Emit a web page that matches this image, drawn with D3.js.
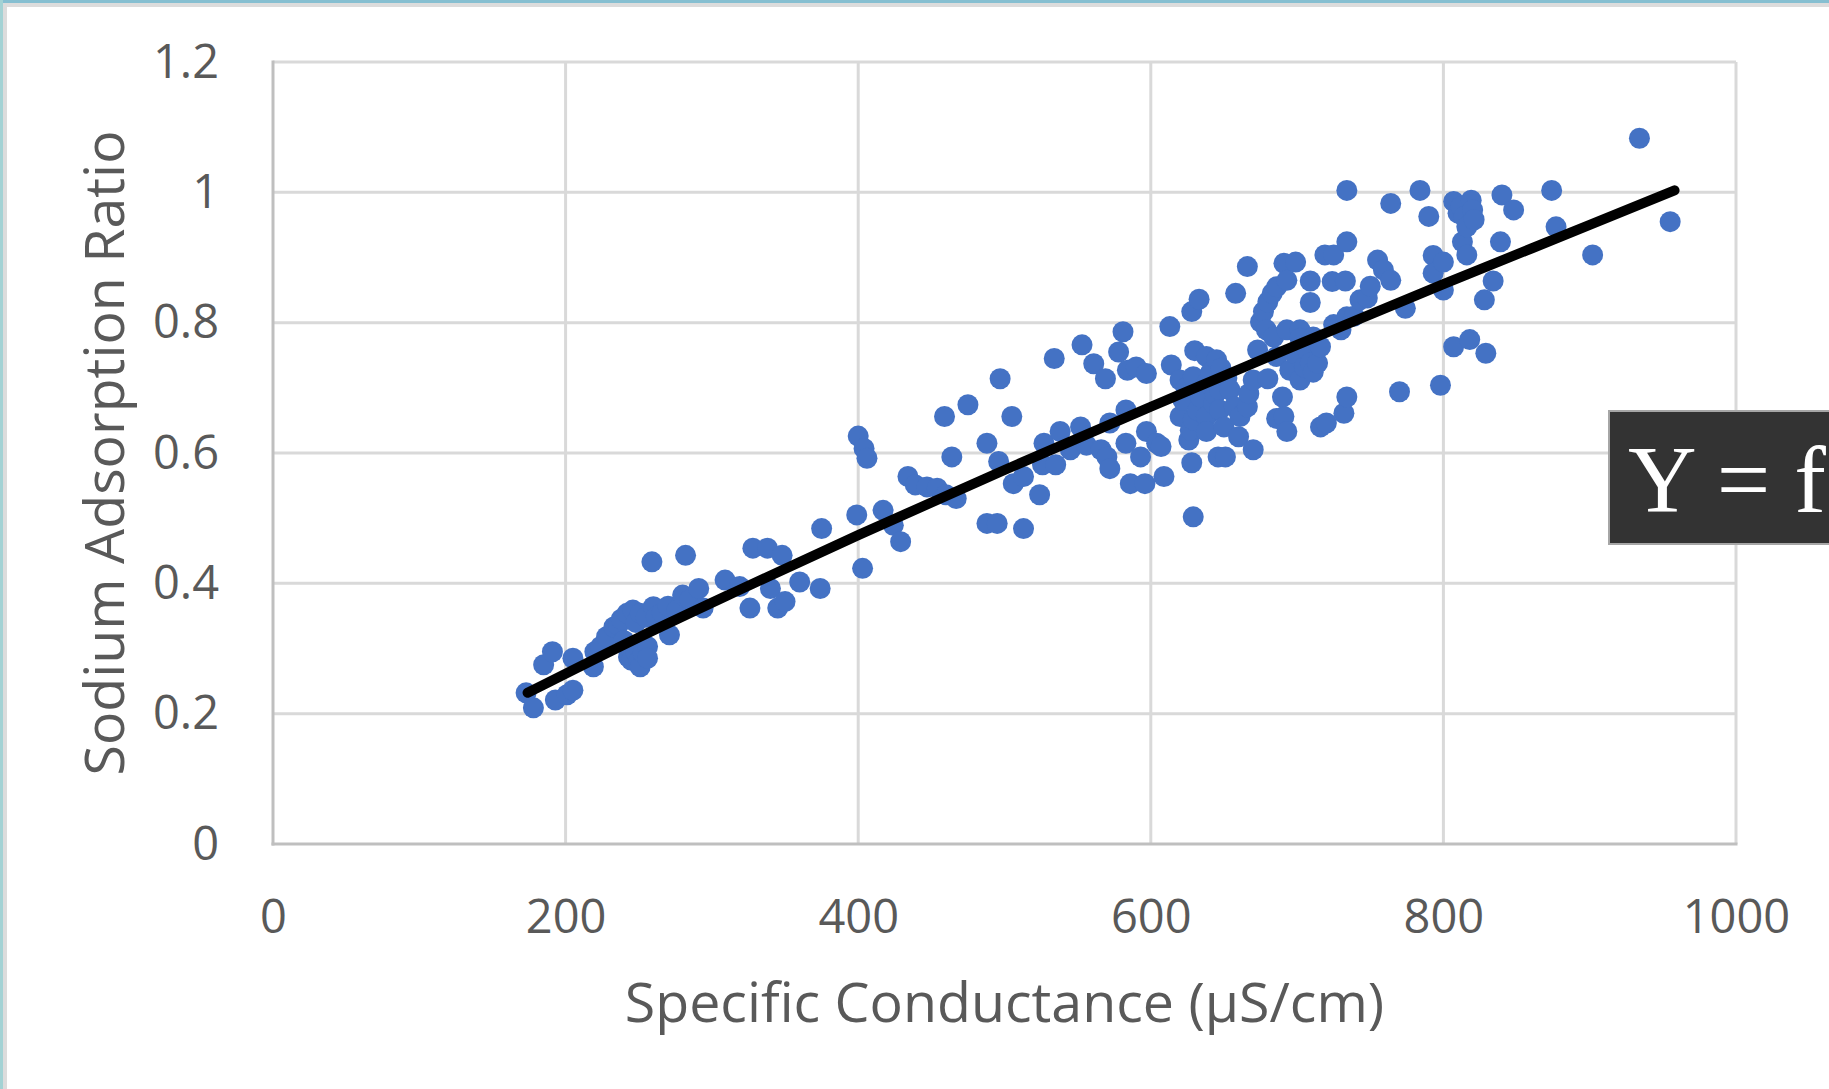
<!DOCTYPE html>
<meta charset="utf-8">
<style>
body {
  margin: 0;
  background-color: #ffffff;
  overflow: hidden;
}
.tick text {
  font-family: "Open Sans", sans-serif;
  font-size: 47px;
  fill: #595959;
}
.title {
  font-family: "Open Sans", sans-serif;
  font-size: 55.5px;
  fill: #595959;
}
.grid line {
  stroke: #d9d9d9;
  stroke-width: 3px;
}
.axisline {
  stroke: #bfbfbf;
  stroke-width: 3px;
}
.dot {
  fill: #4472c4;
}
.trend {
  fill: none;
  stroke: #000000;
  stroke-width: 10px;
  stroke-linecap: round;
}
</style>
<body>
<script src="https://d3js.org/d3.v7.min.js"></script>
<script>
  // tick values and labels
  var xTicks = [0, 200, 400, 600, 800, 1000];
  var xTickLabels = ["0", "200", "400", "600", "800", "1000"];
  var yTicks = [0, 0.2, 0.4, 0.6, 0.8, 1, 1.2];
  var yTickLabels = ["0", "0.2", "0.4", "0.6", "0.8", "1", "1.2"];

  // specific conductance (uS/cm) of each sample
  var conductance = [
    173, 178, 185, 191, 193, 201, 205, 205, 219, 220, 224, 228, 233, 236, 238, 240,
    242, 243, 245, 246, 248, 248, 250, 251, 251, 253, 255, 256, 256, 259, 260, 262,
    266, 270, 271, 276, 280, 282, 285, 291, 294,
    309, 319, 326, 328, 338, 340, 345, 348, 350, 360, 374, 375, 399, 400, 403, 404,
    406, 417, 424, 429, 434, 439, 447, 454, 459, 460, 464, 467, 475, 488, 488, 495,
    496, 497,
    505, 506, 513, 513, 524, 526, 527, 534, 535, 538, 545, 552, 553, 556, 561, 566,
    569, 570, 572, 572, 578, 581, 583, 583, 584, 586, 590, 593, 596, 597, 597, 604,
    607, 609,
    613, 614, 620, 620, 622, 624, 626, 627, 628, 628, 629, 629, 629, 630, 632, 633,
    634, 638, 638, 638, 638, 641, 643, 644, 645, 646, 647, 647, 648, 650, 651, 652,
    654, 657, 658, 660, 661, 666, 666, 667, 670, 670, 673, 675, 677, 679, 680, 680,
    683, 684, 686, 686, 686, 690, 691, 691, 693, 693, 693, 695, 698, 699, 702, 702,
    702,
    705, 707, 709, 709, 709, 711, 711, 714, 716, 716, 719, 720, 724, 725, 725, 730,
    732, 733, 734, 734, 734, 734, 739, 743, 748, 750, 755, 759, 764, 764, 770, 774,
    784, 790, 793, 793, 798, 800, 800,
    807, 807, 810, 812, 813, 814, 816, 816, 818, 819, 820, 821, 828, 829, 834, 839,
    840, 848, 874, 877, 902, 934, 955
  ];

  // sodium adsorption ratio of each sample
  var sar = [
    0.232, 0.209, 0.275, 0.295, 0.221, 0.229, 0.236, 0.285, 0.272, 0.295, 0.303, 0.318, 0.333, 0.336, 0.345, 0.312,
    0.354, 0.287, 0.282, 0.359, 0.340, 0.295, 0.280, 0.272, 0.354, 0.293, 0.348, 0.303, 0.285, 0.433, 0.364, 0.349,
    0.355, 0.365, 0.321, 0.359, 0.382, 0.443, 0.375, 0.392, 0.362,
    0.405, 0.395, 0.362, 0.454, 0.454, 0.392, 0.362, 0.443, 0.372, 0.402, 0.392, 0.484, 0.505, 0.626, 0.423, 0.607,
    0.592, 0.512, 0.489, 0.464, 0.564, 0.551, 0.548, 0.546, 0.656, 0.536, 0.594, 0.530, 0.674, 0.615, 0.492, 0.492,
    0.587, 0.714,
    0.656, 0.553, 0.564, 0.484, 0.536, 0.582, 0.615, 0.745, 0.582, 0.633, 0.605, 0.640, 0.766, 0.612, 0.737, 0.605,
    0.714, 0.594, 0.646, 0.576, 0.755, 0.786, 0.666, 0.615, 0.727, 0.553, 0.732, 0.594, 0.553, 0.722, 0.633, 0.615,
    0.610, 0.564,
    0.794, 0.735, 0.712, 0.656, 0.681, 0.700, 0.620, 0.635, 0.817, 0.585, 0.717, 0.651, 0.502, 0.757, 0.665, 0.836,
    0.686, 0.748, 0.707, 0.656, 0.633, 0.724, 0.676, 0.690, 0.743, 0.594, 0.697, 0.666, 0.730, 0.640, 0.594, 0.715,
    0.697, 0.671, 0.845, 0.625, 0.656, 0.671, 0.886, 0.691, 0.605, 0.712, 0.758, 0.801, 0.817, 0.789, 0.714, 0.832,
    0.845, 0.778, 0.748, 0.653, 0.855, 0.686, 0.656, 0.891, 0.633, 0.789, 0.865, 0.727, 0.753, 0.893, 0.789, 0.712,
    0.776,
    0.732, 0.758, 0.864, 0.831, 0.738, 0.778, 0.724, 0.738, 0.763, 0.640, 0.904, 0.646, 0.863, 0.904, 0.797, 0.789,
    0.661, 0.864, 0.686, 0.809, 0.924, 1.003, 0.810, 0.835, 0.838, 0.856, 0.896, 0.881, 0.865, 0.983, 0.694, 0.822,
    1.003, 0.963, 0.903, 0.876, 0.704, 0.893, 0.850,
    0.986, 0.763, 0.968, 0.978, 0.924, 0.963, 0.947, 0.904, 0.774, 0.988, 0.973, 0.958, 0.835, 0.753, 0.864, 0.924,
    0.996, 0.973, 1.003, 0.947, 0.904, 1.083, 0.955
  ];

  // trend line
  var trendX = [174, 250, 315, 400, 500, 600, 700, 800, 900, 958];
  var trendY = [0.232, 0.317, 0.386, 0.474, 0.574, 0.671, 0.766, 0.859, 0.950, 1.003];

  var boxText = "Y = f";

  var W = 1829, H = 1089;
  var plot = {left: 273, right: 1736, top: 62, bottom: 844};

  var svg = d3.select("body").append("svg")
      .attr("width", W)
      .attr("height", H);

  // frame edges of the screenshot
  svg.append("rect").attr("x", 0).attr("y", 0).attr("width", W).attr("height", 7).attr("fill", "#dcdcdc");
  svg.append("rect").attr("x", 0).attr("y", 0).attr("width", 7).attr("height", H).attr("fill", "#dcdcdc");
  svg.append("rect").attr("x", 0).attr("y", 0).attr("width", W).attr("height", 3).attr("fill", "#86bfd1");
  svg.append("rect").attr("x", 0).attr("y", 0).attr("width", 3).attr("height", H).attr("fill", "#a3d2d4");

  var x = d3.scaleLinear().domain([0, 1000]).range([plot.left, plot.right]);
  var y = d3.scaleLinear().domain([0, 1.2]).range([plot.bottom, plot.top]);

  // gridlines
  svg.append("g")
      .attr("class", "grid")
      .selectAll("line")
      .data(yTicks.filter(function(d) { return d > 0; }))
    .enter().append("line")
      .attr("x1", x(0)).attr("x2", x(1000))
      .attr("y1", function(d) { return y(d); })
      .attr("y2", function(d) { return y(d); });

  svg.append("g")
      .attr("class", "grid")
      .selectAll("line")
      .data(xTicks.filter(function(d) { return d > 0; }))
    .enter().append("line")
      .attr("x1", function(d) { return x(d); })
      .attr("x2", function(d) { return x(d); })
      .attr("y1", y(0)).attr("y2", y(1.2));

  // axis lines
  svg.append("line").attr("class", "axisline")
      .attr("x1", x(0)).attr("x2", x(0)).attr("y1", y(0) + 1.5).attr("y2", y(1.2) - 1.5);
  svg.append("line").attr("class", "axisline")
      .attr("x1", x(0) - 1.5).attr("x2", x(1000) + 1.5).attr("y1", y(0)).attr("y2", y(0));

  // tick labels
  svg.append("g")
      .attr("transform", "translate(0," + plot.bottom + ")")
      .call(d3.axisBottom(x).tickValues(xTicks)
        .tickFormat(function(d, i) { return xTickLabels[i]; })
        .tickSize(0).tickPadding(56))
      .call(function(g) { g.select(".domain").remove(); });

  svg.append("g")
      .attr("transform", "translate(" + plot.left + ",0)")
      .call(d3.axisLeft(y).tickValues(yTicks)
        .tickFormat(function(d, i) { return yTickLabels[i]; })
        .tickSize(0).tickPadding(54))
      .call(function(g) { g.select(".domain").remove(); });

  svg.selectAll(".tick text").attr("font-family", null).attr("font-size", null);

  // scatter points
  svg.append("g")
      .selectAll("circle")
      .data(conductance)
    .enter().append("circle")
      .attr("class", "dot")
      .attr("cx", function(d) { return x(d); })
      .attr("cy", function(d, i) { return y(sar[i]); })
      .attr("r", 10.5);

  // trend line
  var line = d3.line()
      .x(function(d) { return x(d); })
      .y(function(d, i) { return y(trendY[i]); })
      .curve(d3.curveMonotoneX);

  svg.append("path")
      .attr("class", "trend")
      .attr("d", line(trendX));

  // axis titles
  svg.append("text")
      .attr("class", "title")
      .attr("x", (plot.left + plot.right) / 2)
      .attr("y", 1022)
      .attr("text-anchor", "middle")
      .text("Specific Conductance (\u00b5S/cm)");

  svg.append("text")
      .attr("class", "title")
      .attr("transform", "translate(124," + (plot.top + plot.bottom) / 2 + ") rotate(-90)")
      .attr("text-anchor", "middle")
      .text("Sodium Adsorption Ratio");

  // equation box, cut off at the right edge
  svg.append("rect")
      .attr("x", 1609).attr("y", 411)
      .attr("width", 260).attr("height", 133)
      .attr("fill", "#333333")
      .attr("stroke", "#a6a6a6")
      .attr("stroke-width", 2);

  svg.append("text")
      .attr("x", 1628).attr("y", 512)
      .attr("font-family", "Liberation Serif, serif")
      .attr("font-size", 95)
      .attr("fill", "#ffffff")
      .text(boxText);
</script>
</body>
